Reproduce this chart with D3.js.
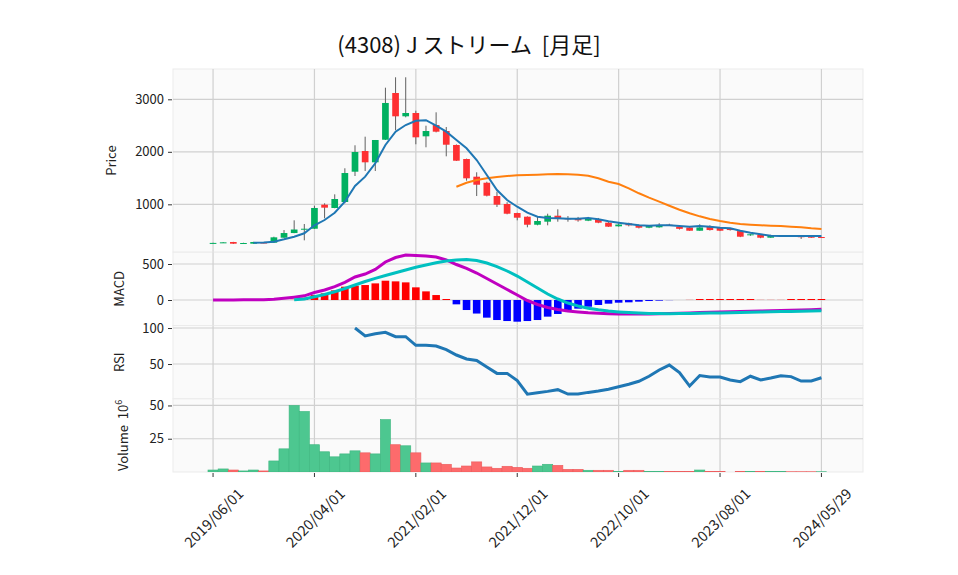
<!DOCTYPE html>
<html>
<head>
<meta charset="utf-8">
<script src="https://cdn.jsdelivr.net/npm/d3@7"></script>
<style>
  body { margin: 0; background: #fff; }
  svg { font-family: "Noto Sans CJK JP", "Noto Sans", sans-serif; }
  text { white-space: pre; }
</style>
</head>
<body>
<svg id="chart" width="958" height="575"></svg>
<script>
// x axis tick positions (bar index) and their labels
const tickIdx = [0, 10, 20, 30, 40, 50, 60];
const tickLabels = ['2019/06/01', '2020/04/01', '2021/02/01', '2021/12/01', '2022/10/01', '2023/08/01', '2024/05/29'];

// monthly OHLC (yen)
const opens = [258, 270, 282, 258, 250, 272, 269, 364, 453, 530, 535, 993, 930, 1044, 1621, 2015, 1800, 2230, 3120, 2676,
  2739, 2295, 2510, 2396, 2130, 1863, 1526, 1411, 1158, 1006, 834, 764, 611, 669, 783, 733, 733, 688, 714, 650,
  581, 638, 606, 554, 562, 611, 574, 558, 497, 587, 548, 542, 490, 410, 421, 364, 392, 400, 392, 383, 377];
const highs = [268, 282, 285, 268, 286, 278, 383, 510, 695, 625, 973, 1019, 1190, 1686, 2124, 2288, 2225, 3221, 3419, 3419,
  2783, 2497, 2752, 2472, 2140, 1870, 1610, 1430, 1240, 1040, 840, 770, 764, 821, 905, 776, 760, 760, 740, 660,
  640, 650, 615, 590, 640, 630, 585, 565, 620, 600, 560, 550, 500, 435, 425, 420, 410, 405, 410, 395, 380];
const lows = [255, 266, 245, 255, 248, 258, 266, 360, 450, 314, 530, 733, 925, 1020, 1539, 1634, 1634, 2225, 2410, 2657,
  2143, 2086, 2370, 1914, 1825, 1450, 1158, 1150, 949, 810, 695, 562, 600, 600, 669, 669, 669, 680, 640, 570,
  575, 580, 540, 545, 555, 590, 520, 495, 495, 500, 490, 500, 375, 400, 355, 360, 385, 385, 340, 360, 360];
const closes = [265, 276, 250, 263, 282, 262, 371, 453, 520, 535, 930, 936, 1101, 1596, 1996, 1800, 2225, 2930, 2676, 2739,
  2276, 2396, 2383, 2135, 1830, 1495, 1373, 1164, 993, 821, 745, 611, 682, 783, 720, 714, 695, 726, 650, 574,
  615, 600, 554, 587, 605, 595, 533, 497, 560, 510, 497, 510, 383, 429, 364, 408, 410, 392, 388, 364, 364];

// volume (x 10^6 shares)
const volumes = [1.5, 2.3, 1.5, 0.8, 1.5, 0.8, 8.3, 17.4, 50, 45.5, 20.5, 15.2, 11.4, 13.6, 15.9, 14.4, 13.6, 39.4, 20.5, 19.7,
  14.4, 6.8, 6.8, 5.8, 3.0, 4.5, 7.6, 3.8, 2.8, 4.3, 3.5, 2.8, 4.5, 5.8, 5.0, 2.0, 2.0, 1.3, 1.3, 1.3,
  0.5, 1.3, 1.3, 0.5, 0.5, 0.5, 0.5, 0.5, 1.5, 0.5, 0.5, 0, 0.5, 0.5, 0.5, 0.5, 0.5, 0.2, 0.2, 0.2, 0.2];

// moving averages
const ma5 = [null, null, null, null, 269, 272, 288, 333, 383, 448, 600, 701, 840, 1050, 1349, 1526, 1781, 2130, 2383, 2510,
  2592, 2603, 2497, 2383, 2225, 2067, 1844, 1558, 1272, 1082, 954, 840, 764, 739, 733, 726, 726, 739, 714, 676,
  650, 625, 600, 593, 600, 600, 587, 574, 587, 574, 555, 542, 497, 459, 429, 402, 396, 396, 396, 396, 396];
const ma25 = [null, null, null, null, null, null, null, null, null, null, null, null, null, null, null, null, null, null, null, null,
  null, null, null, null, 1335, 1411, 1463, 1495, 1520, 1539, 1552, 1558, 1564, 1571, 1577, 1571, 1564, 1545, 1495, 1431,
  1387, 1305, 1210, 1126, 1050, 973, 897, 829, 771, 720, 682, 650, 625, 611, 600, 593, 587, 574, 561, 542, 530];

// MACD panel
const macd = [0, 1, 1, 2, 2, 3, 10, 23, 39, 58, 104, 139, 185, 245, 320, 361, 424, 528, 590, 625,
  618, 611, 597, 556, 493, 438, 375, 299, 222, 146, 69, -7, -62, -104, -132, -153, -167, -178, -185, -190,
  -194, -196, -196, -194, -191, -188, -184, -180, -175, -170, -166, -162, -158, -155, -152, -149, -146, -142, -138, -134, -129];
const signal = [null, null, null, null, null, null, null, null, 5, 14, 46, 76, 115, 160, 208, 257, 301, 340, 379, 417,
  454, 486, 518, 542, 556, 562, 549, 514, 465, 403, 333, 250, 167, 83, 14, -42, -83, -115, -136, -153,
  -165, -174, -181, -186, -189, -190, -189, -187, -185, -182, -179, -176, -173, -170, -167, -164, -161, -158, -155, -152, -150];
const hist = [null, null, null, null, null, null, null, null, 3, 32, 69, 93, 134, 185, 199, 208, 231, 268, 259, 245,
  176, 120, 69, 14, -60, -139, -188, -245, -278, -292, -301, -292, -278, -231, -194, -167, -120, -93, -69, -51,
  -37, -32, -23, -14, -9, -2, 0, 2, 14, 14, 14, 14, 14, 14, 2, 2, 2, 14, 14, 14, 14];

// RSI panel
const rsi = [null, null, null, null, null, null, null, null, null, null, null, null, null, null, 100, 89, 92, 94, 88, 88,
  76, 76, 75, 70, 62.5, 57, 55, 46, 37, 37, 27, 8, 10, 12, 14.4, 8.3, 8.3, 10.6, 12.5, 15,
  18.5, 22, 26, 33, 41.7, 48.6, 38, 19.4, 34, 32, 32, 27.8, 25.5, 33, 27.8, 30.5, 33.8, 32.5, 26.4, 26.4, 31];

const svg = d3.select('#chart');
const left = 173, right = 863;
const n = closes.length;

const x = d3.scaleLinear().domain([-3.95, 64.1]).range([left, right]);

// panels stacked top to bottom
const panels = [
  { name: 'price', top: 69, bottom: 252.2, domain: [88, 3577], ticks: [1000, 2000, 3000], label: 'Price', lx: 116 },
  { name: 'macd', top: 252.2, bottom: 325.5, domain: [-354, 664], ticks: [0, 500], label: 'MACD', lx: 124 },
  { name: 'rsi', top: 325.5, bottom: 398.8, domain: [1.7, 103.5], ticks: [50, 100], label: 'RSI', lx: 124 },
  { name: 'vol', top: 398.8, bottom: 472, domain: [0, 55], ticks: [25, 50], label: 'Volume', lx: 128 }
];
panels.forEach(p => {
  p.y = d3.scaleLinear().domain(p.domain).range([p.bottom, p.top]);
});

const gridColor = '#d0d0d0';

panels.forEach(p => {
  const g = svg.append('g');
  g.append('rect')
    .attr('x', left).attr('y', p.top)
    .attr('width', right - left).attr('height', p.bottom - p.top)
    .attr('fill', '#fafafa')
    .attr('stroke', '#ebebeb').attr('stroke-width', 1);

  // vertical grid
  g.selectAll('.vg').data(tickIdx).enter().append('line')
    .attr('x1', d => x(d)).attr('x2', d => x(d))
    .attr('y1', p.top).attr('y2', p.bottom)
    .attr('stroke', gridColor).attr('stroke-width', 1.2);

  // horizontal grid
  g.selectAll('.hg').data(p.ticks).enter().append('line')
    .attr('x1', left).attr('x2', right)
    .attr('y1', d => p.y(d)).attr('y2', d => p.y(d))
    .attr('stroke', gridColor).attr('stroke-width', 1.2);

  const axis = d3.axisLeft(p.y).tickValues(p.ticks).tickFormat(d3.format('d'))
    .tickSize(4).tickPadding(4);
  const ax = g.append('g').attr('transform', `translate(${left - 1},0)`).call(axis);
  ax.select('.domain').remove();
  ax.selectAll('.tick line').attr('stroke', '#333');
  ax.selectAll('.tick text').attr('font-size', 13).attr('fill', '#222')
    .attr('font-family', '"Noto Sans CJK JP", "Noto Sans", sans-serif');

  // panel label
  const cy = (p.top + p.bottom) / 2;
  const t = svg.append('text')
    .attr('transform', `translate(${p.lx},${cy}) rotate(-90)`)
    .attr('text-anchor', 'middle')
    .attr('font-size', 13).attr('fill', '#222')
    .text(p.label);
  if (p.name === 'vol') {
    t.append('tspan').text('  10');
    t.append('tspan').attr('font-size', 9).attr('dy', -6).text('6');
  }
});

const price = panels[0], pm = panels[1], pr = panels[2], pv = panels[3];

// clip paths per panel
panels.forEach(p => {
  svg.append('clipPath').attr('id', 'clip-' + p.name)
    .append('rect').attr('x', left).attr('y', p.top)
    .attr('width', right - left).attr('height', p.bottom - p.top);
});

const idx = d3.range(n);
const upC = '#00b060', downC = '#fe3032';

// candles
const cg = svg.append('g').attr('clip-path', 'url(#clip-price)');
cg.selectAll('.wick').data(idx).enter().append('line')
  .attr('x1', i => x(i)).attr('x2', i => x(i))
  .attr('y1', i => price.y(highs[i])).attr('y2', i => price.y(lows[i]))
  .attr('stroke', '#606060').attr('stroke-width', 1);
const bw = x(0.66) - x(0);
cg.selectAll('.body').data(idx).enter().append('rect')
  .attr('x', i => x(i) - bw / 2)
  .attr('width', bw)
  .attr('y', i => price.y(Math.max(opens[i], closes[i])))
  .attr('height', i => Math.max(1, Math.abs(price.y(opens[i]) - price.y(closes[i]))))
  .attr('fill', i => closes[i] >= opens[i] ? upC : downC);

// moving averages
const line = (scale, arr) => d3.line()
  .defined(i => arr[i] != null)
  .x(i => x(i)).y(i => scale(arr[i]))(idx);
cg.append('path').attr('d', line(price.y, ma25))
  .attr('fill', 'none').attr('stroke', '#ff7f0e').attr('stroke-width', 2);
cg.append('path').attr('d', line(price.y, ma5))
  .attr('fill', 'none').attr('stroke', '#1f77b4').attr('stroke-width', 2);

// MACD
const mg = svg.append('g').attr('clip-path', 'url(#clip-macd)');
const hw = x(0.75) - x(0);
mg.selectAll('.hist').data(idx.filter(i => hist[i] != null)).enter().append('rect')
  .attr('x', i => x(i) - hw / 2).attr('width', hw)
  .attr('y', i => pm.y(Math.max(0, hist[i])))
  .attr('height', i => Math.abs(pm.y(hist[i]) - pm.y(0)))
  .attr('fill', i => hist[i] >= 0 ? '#ff0000' : '#0000ff');
mg.append('path').attr('d', line(pm.y, macd))
  .attr('fill', 'none').attr('stroke', '#c000c0').attr('stroke-width', 3);
mg.append('path').attr('d', line(pm.y, signal))
  .attr('fill', 'none').attr('stroke', '#00c0c0').attr('stroke-width', 3);

// RSI
svg.append('g').attr('clip-path', 'url(#clip-rsi)')
  .append('path').attr('d', line(pr.y, rsi))
  .attr('fill', 'none').attr('stroke', '#1f77b4').attr('stroke-width', 3);

// volume, coloured by close vs previous close
const vg = svg.append('g').attr('clip-path', 'url(#clip-vol)');
const vw = x(1) - x(0);
vg.selectAll('.vol').data(idx).enter().append('rect')
  .attr('x', i => x(i) - vw / 2).attr('width', vw)
  .attr('y', i => pv.y(volumes[i]))
  .attr('height', i => pv.y(0) - pv.y(volumes[i]))
  .attr('fill', i => (i === 0 || closes[i] >= closes[i - 1]) ? '#4dc790' : '#fd6b6c')
  .attr('stroke', i => (i === 0 || closes[i] >= closes[i - 1]) ? '#3cb67f' : '#ec5a5b')
  .attr('stroke-width', 0.6);

// x axis ticks + rotated labels
const xa = svg.append('g');
xa.selectAll('.xt').data(tickIdx).enter().append('line')
  .attr('x1', d => x(d)).attr('x2', d => x(d))
  .attr('y1', 473).attr('y2', 477)
  .attr('stroke', '#333');
xa.selectAll('.xl').data(tickIdx).enter().append('text')
  .attr('transform', (d, i) => `translate(${x(d)},517) rotate(-45)`)
  .attr('text-anchor', 'middle')
  .attr('dominant-baseline', 'central')
  .attr('font-size', 14.5).attr('fill', '#222')
  .text((d, i) => tickLabels[i]);

// title
svg.append('text')
  .attr('x', 469).attr('y', 53)
  .attr('text-anchor', 'middle')
  .attr('font-size', 22).attr('fill', '#111')
  .text('(4308) J ストリーム  [月足]');
</script>
</body>
</html>
